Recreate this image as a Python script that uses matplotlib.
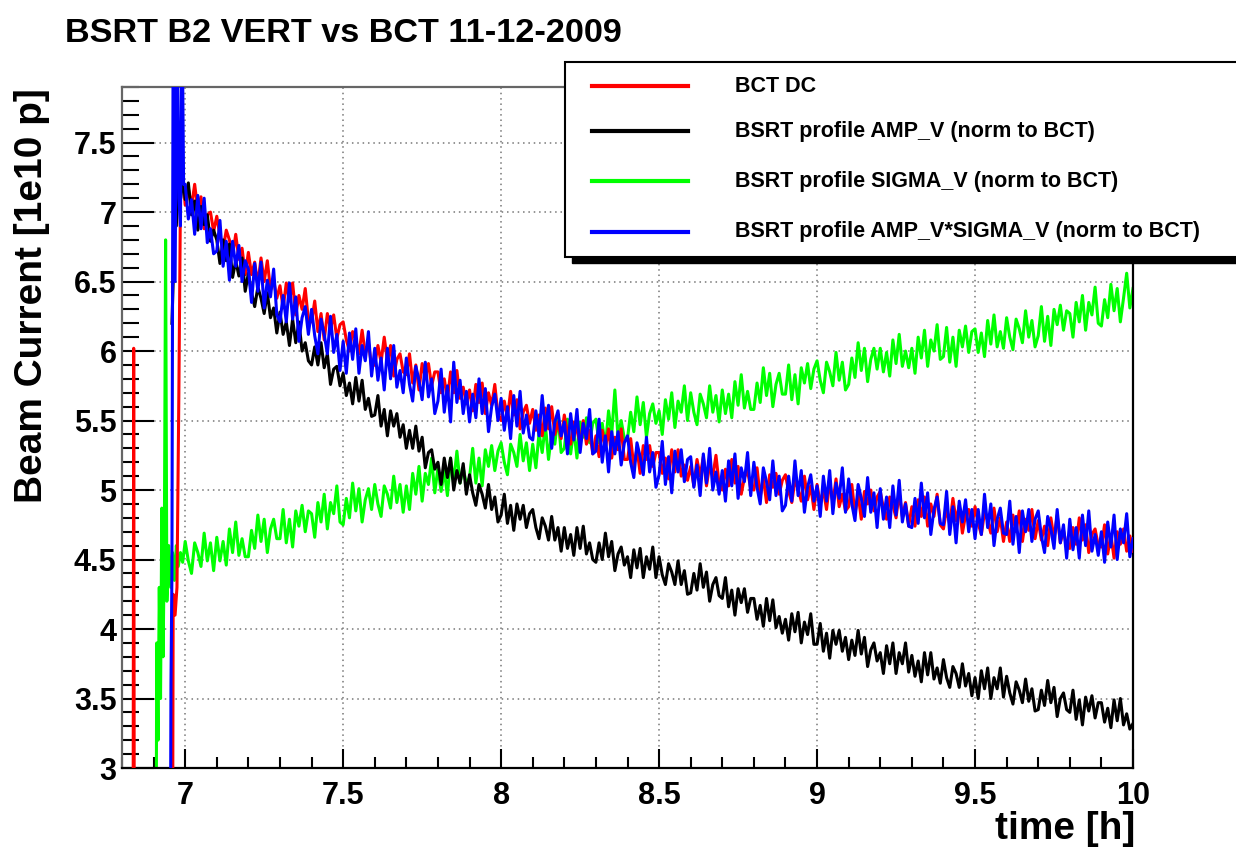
import numpy as np
import matplotlib
matplotlib.use("Agg")
import matplotlib.pyplot as plt
from matplotlib.lines import Line2D
from matplotlib.patches import Rectangle
from matplotlib.ticker import MultipleLocator, FuncFormatter

plt.rcParams['font.family'] = ['Liberation Sans', 'DejaVu Sans']
plt.rcParams['font.weight'] = 'bold'

# ---- data ----
# ramp-up at injection, irregular times [h]
red_t0 = [6.834, 6.837, 6.840, 6.958, 6.962, 6.968, 6.974, 6.980, 6.986, 6.993]
red_v0 = [0.0, 6.02, 0.0, 0.0, 4.25, 4.10, 4.30, 5.70, 7.38, 7.25]

black_t0 = [6.958, 6.962, 6.966, 6.972, 6.978, 6.986, 6.993]
black_v0 = [6.20, 6.50, 7.45, 6.90, 7.30, 7.10, 7.25]

green_t0 = [6.905, 6.910, 6.914, 6.918, 6.922, 6.926, 6.930, 6.934, 6.938, 6.942,
            6.948, 6.954, 6.960, 6.966, 6.972, 6.978, 6.985, 6.992]
green_v0 = [0.0, 3.90, 3.20, 4.30, 3.50, 4.87, 3.80, 4.60, 6.80, 4.20,
            4.60, 4.30, 4.55, 4.35, 4.60, 4.45, 4.55, 4.48]

blue_t0 = [6.950, 6.955, 6.958, 6.962, 6.968, 6.974, 6.980, 6.985, 6.990, 6.995]
blue_v0 = [0.0, 3.60, 4.40, 8.50, 6.50, 8.50, 7.10, 6.90, 8.50, 7.20]

# regular logging from 7.00 h to 10.00 h, one sample every 0.01 h
t_first, t_last, n_samples = 7.0, 10.0, 301

bct_dc = [
    7.05, 7.17, 7.04, 7.20, 7.01, 7.11, 6.88, 6.98, 7.00, 6.86,
    6.97, 6.83, 6.73, 6.87, 6.80, 6.69, 6.84, 6.66, 6.74, 6.55,
    6.71, 6.55, 6.64, 6.48, 6.67, 6.50, 6.65, 6.44, 6.51, 6.38,
    6.47, 6.31, 6.49, 6.36, 6.49, 6.26, 6.40, 6.30, 6.45, 6.22,
    6.21, 6.36, 6.14, 6.27, 6.08, 6.27, 6.16, 6.26, 6.09, 6.19,
    6.21, 6.08, 6.00, 6.14, 6.08, 5.98, 6.15, 5.98, 6.06, 5.89,
    5.90, 6.04, 5.92, 6.10, 5.93, 6.04, 5.82, 5.94, 5.98, 5.85,
    5.83, 5.98, 5.77, 5.90, 5.72, 5.91, 5.81, 5.91, 5.75, 5.85,
    5.85, 5.70, 5.80, 5.65, 5.85, 5.70, 5.86, 5.66, 5.74, 5.62,
    5.72, 5.57, 5.76, 5.63, 5.77, 5.55, 5.70, 5.61, 5.76, 5.54,
    5.50, 5.64, 5.52, 5.71, 5.54, 5.65, 5.44, 5.56, 5.61, 5.48,
    5.58, 5.43, 5.54, 5.39, 5.59, 5.44, 5.60, 5.40, 5.49, 5.37,
    5.54, 5.41, 5.33, 5.49, 5.43, 5.33, 5.50, 5.33, 5.43, 5.26,
    5.39, 5.24, 5.43, 5.30, 5.44, 5.23, 5.38, 5.29, 5.44, 5.22,
    5.22, 5.37, 5.17, 5.30, 5.12, 5.32, 5.22, 5.32, 5.17, 5.27,
    5.27, 5.12, 5.23, 5.08, 5.29, 5.13, 5.29, 5.10, 5.18, 5.07,
    5.17, 5.03, 5.22, 5.10, 5.24, 5.03, 5.18, 5.10, 5.25, 5.04,
    5.00, 5.15, 5.03, 5.22, 5.05, 5.17, 4.97, 5.09, 5.14, 5.01,
    5.00, 5.16, 4.95, 5.09, 4.91, 5.11, 5.02, 5.12, 4.97, 5.07,
    5.11, 4.99, 4.91, 5.07, 5.01, 4.92, 5.10, 4.93, 5.03, 4.86,
    5.04, 4.90, 5.00, 4.86, 5.06, 4.91, 5.08, 4.88, 4.97, 4.85,
    4.88, 5.04, 4.83, 4.97, 4.79, 4.99, 4.90, 5.00, 4.85, 4.95,
    4.99, 4.87, 4.79, 4.95, 4.89, 4.80, 4.98, 4.81, 4.91, 4.74,
    4.88, 4.74, 4.93, 4.81, 4.95, 4.74, 4.90, 4.81, 4.97, 4.75,
    4.72, 4.87, 4.75, 4.94, 4.78, 4.89, 4.69, 4.82, 4.86, 4.74,
    4.88, 4.76, 4.68, 4.84, 4.78, 4.69, 4.87, 4.70, 4.80, 4.63,
    4.77, 4.63, 4.82, 4.70, 4.85, 4.63, 4.79, 4.71, 4.86, 4.65,
    4.78, 4.64, 4.74, 4.60, 4.80, 4.65, 4.82, 4.62, 4.71, 4.59,
    4.58, 4.73, 4.61, 4.80, 4.64, 4.75, 4.55, 4.68, 4.72, 4.60,
    4.59, 4.75, 4.54, 4.68, 4.51, 4.70, 4.61, 4.72, 4.56, 4.67,
    4.56]

amp_v = [
    7.09, 7.21, 6.98, 7.08, 6.87, 7.04, 6.91, 6.98, 6.79, 6.87,
    6.80, 6.63, 6.80, 6.65, 6.77, 6.53, 6.65, 6.54, 6.67, 6.43,
    6.56, 6.42, 6.32, 6.46, 6.38, 6.27, 6.42, 6.24, 6.31, 6.13,
    6.28, 6.12, 6.21, 6.04, 6.23, 6.06, 6.21, 6.00, 6.06, 5.93,
    5.90, 6.03, 5.90, 6.06, 5.88, 5.98, 5.76, 5.87, 5.89, 5.75,
    5.84, 5.68, 5.77, 5.62, 5.81, 5.64, 5.79, 5.58, 5.66, 5.53,
    5.54, 5.68, 5.46, 5.58, 5.39, 5.57, 5.46, 5.55, 5.38, 5.47,
    5.30, 5.43, 5.30, 5.46, 5.28, 5.38, 5.16, 5.27, 5.29, 5.15,
    5.20, 5.04, 5.23, 5.09, 5.23, 5.00, 5.14, 5.05, 5.19, 4.97,
    5.11, 4.98, 4.89, 5.04, 4.97, 4.87, 5.04, 4.86, 4.95, 4.77,
    4.82, 4.97, 4.76, 4.89, 4.71, 4.90, 4.79, 4.89, 4.73, 4.83,
    4.86, 4.73, 4.65, 4.80, 4.74, 4.64, 4.81, 4.64, 4.73, 4.56,
    4.73, 4.58, 4.68, 4.53, 4.73, 4.58, 4.74, 4.54, 4.62, 4.50,
    4.48, 4.62, 4.50, 4.69, 4.52, 4.63, 4.42, 4.54, 4.59, 4.46,
    4.52, 4.37, 4.57, 4.44, 4.58, 4.37, 4.52, 4.43, 4.59, 4.37,
    4.52, 4.39, 4.32, 4.47, 4.41, 4.32, 4.49, 4.32, 4.42, 4.25,
    4.26, 4.40, 4.28, 4.47, 4.30, 4.41, 4.20, 4.32, 4.37, 4.24,
    4.22, 4.37, 4.16, 4.28, 4.10, 4.29, 4.19, 4.29, 4.12, 4.22,
    4.22, 4.07, 4.17, 4.02, 4.22, 4.06, 4.21, 4.01, 4.09, 3.97,
    4.07, 3.92, 4.11, 3.98, 4.12, 3.90, 4.05, 3.96, 4.11, 3.89,
    3.89, 4.04, 3.84, 3.97, 3.79, 3.99, 3.89, 3.99, 3.84, 3.94,
    3.78, 3.92, 3.81, 3.99, 3.82, 3.94, 3.73, 3.85, 3.90, 3.77,
    3.83, 3.68, 3.88, 3.75, 3.90, 3.68, 3.83, 3.75, 3.90, 3.69,
    3.81, 3.66, 3.77, 3.62, 3.83, 3.67, 3.83, 3.64, 3.72, 3.61,
    3.78, 3.65, 3.58, 3.73, 3.68, 3.58, 3.75, 3.59, 3.68, 3.52,
    3.65, 3.50, 3.70, 3.57, 3.72, 3.50, 3.65, 3.57, 3.72, 3.51,
    3.66, 3.54, 3.46, 3.62, 3.56, 3.47, 3.64, 3.48, 3.57, 3.41,
    3.42, 3.56, 3.45, 3.63, 3.47, 3.58, 3.37, 3.50, 3.54, 3.42,
    3.40, 3.56, 3.35, 3.49, 3.31, 3.51, 3.41, 3.52, 3.36, 3.47,
    3.47, 3.33, 3.43, 3.29, 3.49, 3.34, 3.50, 3.31, 3.39, 3.28,
    3.32]

sigma_v = [
    4.63, 4.49, 4.40, 4.62, 4.55, 4.45, 4.69, 4.49, 4.62, 4.42,
    4.66, 4.49, 4.63, 4.46, 4.72, 4.55, 4.77, 4.53, 4.65, 4.52,
    4.52, 4.71, 4.58, 4.82, 4.63, 4.79, 4.55, 4.72, 4.79, 4.65,
    4.65, 4.86, 4.62, 4.79, 4.59, 4.85, 4.74, 4.89, 4.70, 4.85,
    4.83, 4.66, 4.91, 4.77, 4.97, 4.72, 4.91, 4.83, 5.03, 4.77,
    4.75, 4.94, 4.80, 5.05, 4.85, 5.01, 4.77, 4.93, 5.01, 4.86,
    5.04, 4.90, 4.81, 5.03, 4.97, 4.87, 5.10, 4.91, 5.04, 4.84,
    5.03, 4.86, 5.12, 4.97, 5.17, 4.92, 5.12, 5.04, 5.23, 4.98,
    5.16, 4.99, 5.14, 4.96, 5.23, 5.06, 5.28, 5.05, 5.16, 5.04,
    5.09, 5.30, 5.05, 5.23, 5.03, 5.29, 5.17, 5.32, 5.14, 5.28,
    5.34, 5.20, 5.11, 5.33, 5.27, 5.17, 5.40, 5.21, 5.34, 5.14,
    5.33, 5.16, 5.41, 5.27, 5.47, 5.22, 5.41, 5.33, 5.53, 5.27,
    5.30, 5.51, 5.26, 5.44, 5.23, 5.49, 5.38, 5.52, 5.34, 5.48,
    5.51, 5.34, 5.48, 5.31, 5.57, 5.40, 5.72, 5.38, 5.50, 5.37,
    5.37, 5.56, 5.42, 5.67, 5.47, 5.63, 5.38, 5.55, 5.62, 5.48,
    5.57, 5.40, 5.65, 5.51, 5.70, 5.45, 5.64, 5.56, 5.75, 5.50,
    5.70, 5.56, 5.47, 5.69, 5.62, 5.52, 5.75, 5.56, 5.68, 5.49,
    5.72, 5.55, 5.69, 5.52, 5.78, 5.61, 5.83, 5.59, 5.71, 5.58,
    5.58, 5.77, 5.63, 5.88, 5.68, 5.84, 5.60, 5.76, 5.84, 5.69,
    5.69, 5.90, 5.65, 5.83, 5.62, 5.88, 5.77, 5.91, 5.73, 5.87,
    5.93, 5.79, 5.70, 5.92, 5.85, 5.75, 5.99, 5.79, 5.92, 5.72,
    5.76, 5.95, 5.81, 6.06, 5.86, 6.02, 5.78, 5.94, 6.02, 5.87,
    6.02, 5.85, 5.99, 5.82, 6.08, 5.91, 6.12, 5.89, 6.00, 5.88,
    6.02, 5.84, 6.10, 5.95, 6.15, 5.89, 6.08, 6.00, 6.19, 5.94,
    5.96, 6.17, 5.92, 6.10, 5.89, 6.15, 6.03, 6.18, 5.99, 6.14,
    6.16, 5.99, 6.13, 5.96, 6.22, 6.05, 6.26, 6.03, 6.14, 6.02,
    6.24, 6.10, 6.01, 6.23, 6.16, 6.06, 6.29, 6.10, 6.22, 6.03,
    6.11, 6.32, 6.07, 6.25, 6.04, 6.30, 6.19, 6.33, 6.15, 6.29,
    6.27, 6.10, 6.35, 6.21, 6.40, 6.15, 6.35, 6.26, 6.46, 6.20,
    6.18, 6.37, 6.24, 6.48, 6.29, 6.45, 6.21, 6.38, 6.56, 6.31,
    6.45]

amp_sigma_v = [
    7.20, 6.95, 7.09, 6.84, 7.12, 6.88, 7.10, 6.78, 6.88, 6.70,
    6.72, 6.94, 6.61, 6.79, 6.51, 6.79, 6.61, 6.76, 6.50, 6.65,
    6.59, 6.35, 6.63, 6.43, 6.64, 6.31, 6.51, 6.39, 6.59, 6.26,
    6.21, 6.40, 6.21, 6.49, 6.23, 6.39, 6.07, 6.24, 6.32, 6.12,
    6.30, 6.11, 5.98, 6.23, 6.12, 5.98, 6.25, 5.99, 6.12, 5.86,
    6.07, 5.84, 6.13, 5.94, 6.16, 5.84, 6.04, 5.93, 6.14, 5.82,
    6.02, 5.79, 5.95, 5.72, 6.02, 5.80, 6.04, 5.74, 5.86, 5.70,
    5.95, 5.76, 5.64, 5.89, 5.79, 5.65, 5.92, 5.67, 5.80, 5.55,
    5.64, 5.87, 5.56, 5.75, 5.49, 5.92, 5.63, 5.79, 5.55, 5.71,
    5.49, 5.69, 5.52, 5.80, 5.55, 5.73, 5.42, 5.60, 5.69, 5.50,
    5.66, 5.43, 5.60, 5.37, 5.68, 5.46, 5.71, 5.41, 5.54, 5.38,
    5.36, 5.57, 5.39, 5.68, 5.43, 5.61, 5.30, 5.49, 5.57, 5.39,
    5.49, 5.26, 5.55, 5.36, 5.58, 5.27, 5.48, 5.37, 5.58, 5.26,
    5.28, 5.51, 5.20, 5.39, 5.13, 5.42, 5.26, 5.42, 5.18, 5.34,
    5.39, 5.20, 5.09, 5.34, 5.24, 5.11, 5.38, 5.13, 5.27, 5.02,
    5.11, 5.35, 5.04, 5.24, 4.98, 5.28, 5.13, 5.29, 5.06, 5.22,
    5.24, 5.02, 5.18, 4.96, 5.26, 5.05, 5.30, 5.00, 5.13, 4.97,
    5.14, 4.92, 5.21, 5.03, 5.26, 4.94, 5.16, 5.06, 5.27, 4.96,
    5.20, 5.02, 4.90, 5.16, 5.06, 4.93, 5.21, 4.96, 5.10, 4.85,
    4.89, 5.10, 4.92, 5.21, 4.96, 5.14, 4.84, 5.02, 5.11, 4.92,
    5.03, 4.81, 5.10, 4.92, 5.14, 4.83, 5.05, 4.94, 5.16, 4.84,
    5.08, 4.90, 4.78, 5.04, 4.94, 4.81, 5.09, 4.84, 4.98, 4.73,
    5.01, 4.79, 4.95, 4.73, 5.03, 4.82, 5.07, 4.77, 4.90, 4.74,
    4.73, 4.94, 4.76, 5.05, 4.80, 4.98, 4.68, 4.86, 4.95, 4.76,
    4.75, 4.99, 4.68, 4.88, 4.62, 4.92, 4.77, 4.93, 4.70, 4.86,
    4.65, 4.86, 4.68, 4.97, 4.73, 4.90, 4.60, 4.79, 4.87, 4.69,
    4.68, 4.92, 4.61, 4.81, 4.55, 4.85, 4.70, 4.86, 4.63, 4.79,
    4.85, 4.67, 4.55, 4.81, 4.72, 4.58, 4.86, 4.62, 4.75, 4.51,
    4.79, 4.57, 4.73, 4.51, 4.82, 4.60, 4.85, 4.56, 4.68, 4.53,
    4.70, 4.48, 4.77, 4.59, 4.82, 4.50, 4.72, 4.62, 4.83, 4.52,
    4.65]

labels = ['BCT DC',
          'BSRT profile AMP_V (norm to BCT)',
          'BSRT profile SIGMA_V (norm to BCT)',
          'BSRT profile AMP_V*SIGMA_V (norm to BCT)']
colors = ['#ff0000', '#000000', '#00ff00', '#0000ff']


def main():
    t_main = np.linspace(t_first, t_last, n_samples)
    series = [
        (red_t0, red_v0, bct_dc),
        (black_t0, black_v0, amp_v),
        (green_t0, green_v0, sigma_v),
        (blue_t0, blue_v0, amp_sigma_v),
    ]
    zorders = [3, 4, 2, 5]

    fig = plt.figure(figsize=(12.36, 8.5), dpi=100)
    ax = fig.add_axes([122 / 1236, 82 / 850, 1011 / 1236, 681 / 850])

    for (t0, v0, vals), col, z in zip(series, colors, zorders):
        t = np.concatenate([t0, t_main])
        v = np.concatenate([v0, vals])
        ax.plot(t, v, color=col, lw=2.2, zorder=z)

    ax.set_xlim(6.8, 10.0)
    ax.set_ylim(3.0, 7.9)

    # ROOT-like axes
    ax.xaxis.set_major_locator(MultipleLocator(0.5))
    ax.xaxis.set_minor_locator(MultipleLocator(0.1))
    ax.yaxis.set_major_locator(MultipleLocator(0.5))
    ax.yaxis.set_minor_locator(MultipleLocator(0.1))
    fmt = FuncFormatter(lambda v, p: '%g' % v)
    ax.xaxis.set_major_formatter(fmt)
    ax.yaxis.set_major_formatter(fmt)
    ax.tick_params(axis='both', which='both', direction='in', width=1.5,
                   top=False, right=False, labelsize=22)
    ax.tick_params(axis='x', which='major', length=14, pad=9)
    ax.tick_params(axis='x', which='minor', length=8)
    ax.tick_params(axis='y', which='major', length=23, pad=4)
    ax.tick_params(axis='y', which='minor', length=12)
    for lab in ax.get_xticklabels() + ax.get_yticklabels():
        lab.set_fontweight('bold')
    ax.grid(True, which='major', color='#777777', lw=1.1, ls=(0, (1, 2.5)))
    for side in ['bottom', 'right']:
        ax.spines[side].set_linewidth(1.6)
        ax.spines[side].set_color('black')
    for side in ['top', 'left']:
        ax.spines[side].set_linewidth(1.6)
        ax.spines[side].set_color('#666666')

    fig.text(65 / 1236, 1 - 34 / 850, 'BSRT B2 VERT vs BCT 11-12-2009',
             ha='left', va='center', fontsize=24.7, fontweight='bold')
    fig.text(32 / 1236, 1 - 88 / 850, 'Beam Current [1e10 p]', rotation=90,
             ha='center', va='top', fontsize=28, fontweight='bold')
    fig.text(1135 / 1236, 1 - 829 / 850, 'time [h]',
             ha='right', va='center', fontsize=28, fontweight='bold')

    # legend box drawn in figure pixels, ROOT style with shadow
    W, H = 1236.0, 850.0
    fig.add_artist(Rectangle((572 / W, 1 - 263 / H), 700 / W, 8 / H,
                             transform=fig.transFigure, color='black',
                             zorder=10))
    fig.add_artist(Rectangle((565 / W, 1 - 257 / H), 700 / W, 195 / H,
                             transform=fig.transFigure, facecolor='white',
                             edgecolor='black', lw=1.5, zorder=11))
    rows_y = [86, 131, 181, 232]
    for yy, lab, col in zip(rows_y, labels, colors):
        fig.add_artist(Line2D([592 / W, 688 / W], [1 - yy / H, 1 - yy / H],
                              transform=fig.transFigure, color=col, lw=3,
                              zorder=12))
        fig.text(735 / W, 1 - yy / H, lab, ha='left', va='center',
                 fontsize=15.5, fontweight='bold', zorder=12)

    fig.savefig('out.png', dpi=100)


if __name__ == '__main__':
    main()
